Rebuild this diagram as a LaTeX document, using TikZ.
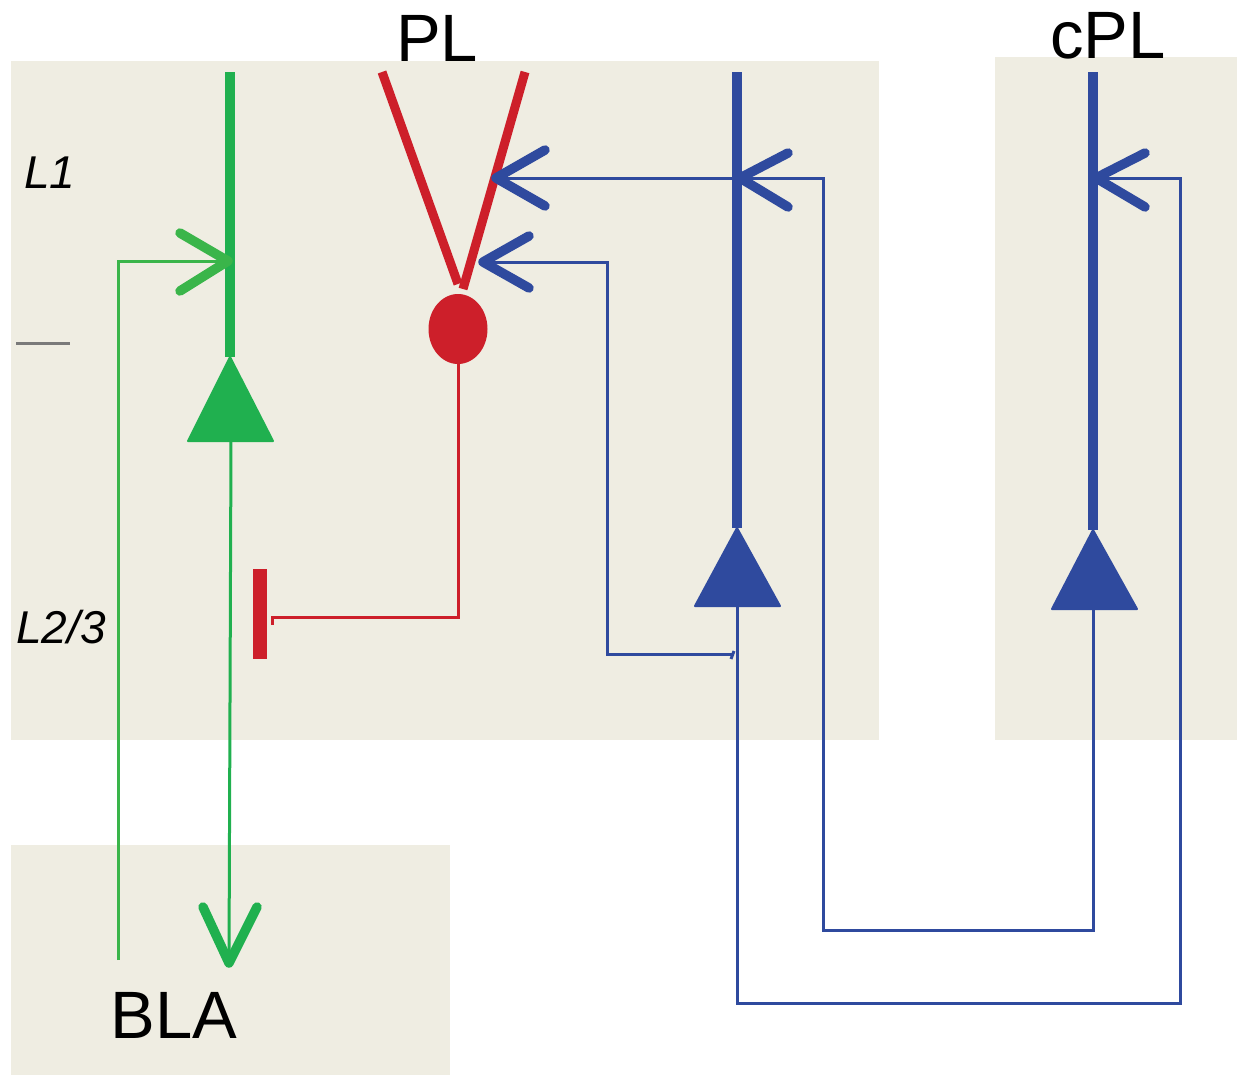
\documentclass[tikz,border=0pt]{standalone}
\usepackage{fontspec}
\setmainfont{Liberation Sans}
\usetikzlibrary{shapes.geometric}
\definecolor{bg}{HTML}{EFEDE2}
\definecolor{ngreen}{HTML}{20B04F}
\definecolor{lgreen}{HTML}{3AB54A}
\definecolor{nred}{HTML}{CD1F2A}
\definecolor{nblue}{HTML}{2F4A9E}
\definecolor{dgray}{HTML}{7A7A7A}
\tikzset{
  region/.style={fill=bg,draw=none},
  big/.style={font=\fontsize{67}{67}\selectfont,anchor=base,inner sep=0pt},
  layer/.style={font=\fontsize{46}{46}\selectfont\itshape,anchor=base west,inner sep=0pt},
  dend/.style={line width=10pt},
  thin/.style={line width=3pt},
  vhead/.style={line width=9.5pt,line cap=round,line join=round},
  soma/.style={line join=round,line width=2pt},
}
\begin{document}
\begin{tikzpicture}[x=1pt,y=-1pt]
\useasboundingbox (0,0) rectangle (1237,1076);
% regions
\fill[region] (11,61) rectangle (879,740);
\fill[region] (995,57) rectangle (1237,740);
\fill[region] (11,845) rectangle (450,1075);
% labels
\node[big] (pl) at (437,61) {PL};
\node[big] (cpl) at (1108,58) {cPL};
\node[big] (bla) at (174,1038) {BLA};
\node[layer] (l1) at (24,188) {L1};
\node[layer] (l23) at (16,643) {L2/3};
\draw[dgray,line width=3pt] (16,343) -- (70,343);

% ---------- green neuron ----------
\coordinate (gtop) at (230,72);
\coordinate (gapex) at (230,357);
\draw[ngreen,dend] (gtop) -- (gapex);
\filldraw[ngreen,soma] (gapex) -- (273,441) -- (188,441) -- cycle;
\coordinate (gbase) at (231,441);
\coordinate (gtip) at (229,963);
\draw[ngreen,thin] (gbase) -- (gtip);
\draw[ngreen,vhead] (203,907) -- (gtip) -- (257,907);
% BLA input to green
\coordinate (gin) at (118,960);
\coordinate (gsyn) at (228,261);
\draw[lgreen,thin] (gin) |- (gsyn);
\draw[lgreen,vhead] (180,233) -- (gsyn) -- (180,291);

% ---------- red neuron ----------
\draw[nred,line width=9pt] (382,72) -- (458,284);
\draw[nred,line width=9pt] (525,72) -- (463,289);
\node[ellipse,fill=nred,minimum width=59pt,minimum height=70pt,inner sep=0pt] (rsoma) at (458,329) {};
\coordinate (rcorner) at (458,617);
\coordinate (rend) at (272,617);
\draw[nred,thin,line join=miter] (rsoma.south) -- (rcorner) -- (rend) -- (272,625);
\fill[nred] (253,569) rectangle (267,659);

% ---------- blue PL neuron ----------
\coordinate (b1top) at (737,72);
\coordinate (b1apex) at (737,528);
\draw[nblue,dend] (b1top) -- (b1apex);
\filldraw[nblue,soma] (b1apex) -- (780,606) -- (695,606) -- cycle;
\coordinate (b1base) at (737,606);
% recurrent collateral
\coordinate (b1col) at (734,654);
\coordinate (rsyn2) at (483,262);
\draw[nblue,thin,line join=miter] (b1col) -- (607,654) |- (rsyn2);
\draw[nblue,thin] (734,651) -- (731,659);
\draw[nblue,vhead] (529,236) -- (rsyn2) -- (529,288);
% projection to cPL
\coordinate (c2syn) at (1096,178);
\draw[nblue,thin,line join=miter] (b1base) -- (737,1003) -- (1180,1003) -- (1180,178) -- (c2syn);
\draw[nblue,vhead] (1145,153) -- (c2syn) -- (1145,207);

% ---------- blue cPL neuron ----------
\coordinate (b2top) at (1093,72);
\coordinate (b2apex) at (1093,530);
\draw[nblue,dend] (b2top) -- (b2apex);
\filldraw[nblue,soma] (b2apex) -- (1137,609) -- (1052,609) -- cycle;
\coordinate (b2base) at (1093,609);
\coordinate (b1syn) at (740,178);
\coordinate (rsyn1) at (496,178);
\draw[nblue,thin,line join=miter] (b2base) -- (1093,930) -- (823,930) -- (823,178) -- (rsyn1);
\draw[nblue,vhead] (788,153) -- (b1syn) -- (788,207);
\draw[nblue,vhead] (545,150) -- (rsyn1) -- (545,206);
\end{tikzpicture}
\end{document}
